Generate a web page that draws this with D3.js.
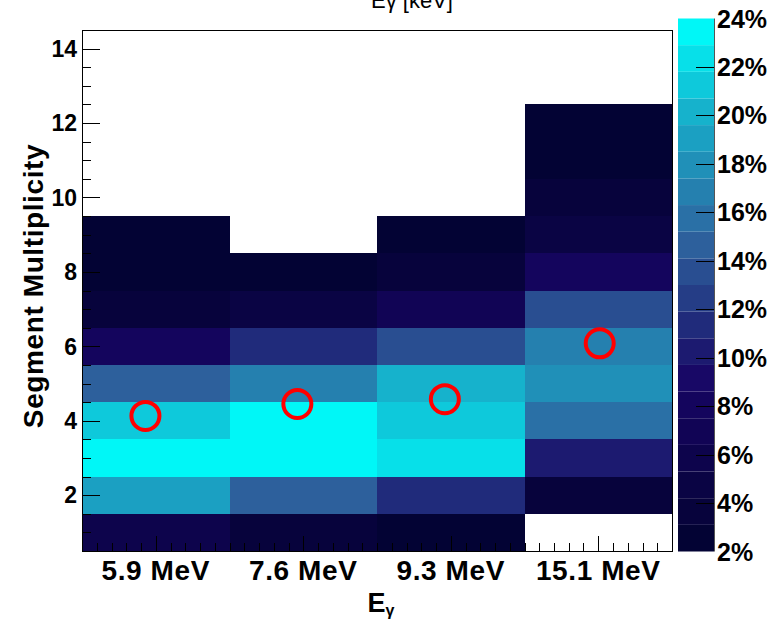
<!DOCTYPE html>
<html>
<head>
<meta charset="utf-8">
<script src="https://cdn.jsdelivr.net/npm/d3@7"></script>
<style>
  body { margin: 0; background: #fff; }
  svg { display: block; }
  text { font-family: "Liberation Sans", Arial, Helvetica, sans-serif; fill: #000; }
</style>
</head>
<body>
<svg id="chart" width="771" height="622"></svg>
<script>
// Gamma-ray lines and the share (%) of events per segment multiplicity
const categories = ["5.9 MeV", "7.6 MeV", "9.3 MeV", "15.1 MeV"];
const firstMultiplicity = [1, 1, 1, 2];
const share59  = [5.5, 19.0, 23.2, 21.0, 14.6, 7.8, 3.5, 2.8, 2.5];
const share76  = [3.2, 14.8, 23.5, 23.6, 16.8, 11.2, 5.0, 2.5];
const share93  = [2.5, 10.9, 22.0, 20.8, 19.8, 13.2, 6.5, 3.3, 2.2];
const share151 = [4.0, 10.0, 16.0, 18.0, 17.0, 13.5, 8.0, 4.5, 3.2, 2.5, 2.2];
const shares = [share59, share76, share93, share151];

// Mean multiplicity markers (x in category-axis units, 0..4)
const meanX = [0.43, 1.46, 2.46, 3.51];
const meanMultiplicity = [4.13, 4.45, 4.58, 6.08];

const yTickValues = [2, 4, 6, 8, 10, 12, 14];
const zTickValues = [2, 4, 6, 8, 10, 12, 14, 16, 18, 20, 22, 24];
const zRange = [2, 24];
const nContours = 20;

// Layout
const frame = { left: 82, right: 672, top: 30, bottom: 551 };
const bar = { left: 678, right: 714, top: 18.5, bottom: 551.5 };

const svg = d3.select("#chart");

const x = d3.scaleLinear().domain([0, categories.length]).range([frame.left, frame.right]);
const y = d3.scaleLinear().domain([0.5, 14.5]).range([frame.bottom, frame.top]);
const z = d3.scaleLinear().domain(zRange).range([bar.bottom, bar.top]);

// Deep-sea style gradient palette
const palette = d3.scaleLinear()
  .domain([0.00, 0.34, 0.61, 0.84, 1.00])
  .range([
    d3.rgb(0.00 * 255, 0.01 * 255, 0.17 * 255),
    d3.rgb(0.09 * 255, 0.02 * 255, 0.39 * 255),
    d3.rgb(0.18 * 255, 0.39 * 255, 0.62 * 255),
    d3.rgb(0.09 * 255, 0.68 * 255, 0.79 * 255),
    d3.rgb(0.00 * 255, 0.97 * 255, 0.97 * 255)
  ])
  .interpolate(d3.interpolateRgb)
  .clamp(true);

const step = (zRange[1] - zRange[0]) / nContours;
function levelOf(v) {
  return Math.max(0, Math.min(nContours - 1, Math.floor((v - zRange[0]) / step)));
}
function levelColor(k) { return palette((k + 0.99) / nContours); }

// Cells
const cells = [];
shares.forEach((col, i) => {
  col.forEach((v, j) => cells.push({ i, m: firstMultiplicity[i] + j, v }));
});

svg.append("g")
  .selectAll("rect")
  .data(cells)
  .join("rect")
  .attr("x", d => x(d.i))
  .attr("width", d => x(d.i + 1) - x(d.i))
  .attr("y", d => y(d.m + 0.5))
  .attr("height", d => y(d.m - 0.5) - y(d.m + 0.5))
  .attr("fill", d => levelColor(levelOf(d.v)))
  .attr("shape-rendering", "crispEdges");

// Frame
svg.append("rect")
  .attr("x", frame.left + 0.5).attr("y", frame.top + 0.5)
  .attr("width", frame.right - frame.left).attr("height", frame.bottom - frame.top)
  .attr("fill", "none").attr("stroke", "#000").attr("stroke-width", 1);

// Y axis ticks (inside, pointing right)
const yTickG = svg.append("g").attr("stroke", "#000").attr("stroke-width", 1);
const yMinor = d3.range(1, 14.5, 0.5);
yTickG.selectAll("line")
  .data(yMinor)
  .join("line")
  .attr("x1", frame.left)
  .attr("x2", d => frame.left + (d % 2 === 0 ? 18 : 9))
  .attr("y1", d => Math.round(y(d)) + 0.5)
  .attr("y2", d => Math.round(y(d)) + 0.5);

svg.append("g")
  .selectAll("text")
  .data(yTickValues)
  .join("text")
  .attr("x", frame.left - 5)
  .attr("y", d => y(d))
  .attr("dy", "0.36em")
  .attr("text-anchor", "end")
  .attr("font-size", 23)
  .attr("font-weight", "bold")
  .text(d => d);

// X axis ticks (inside, pointing up)
const xTickG = svg.append("g").attr("stroke", "#000").attr("stroke-width", 1);
const xMinor = d3.range(1, categories.length * 10);
xTickG.selectAll("line")
  .data(xMinor)
  .join("line")
  .attr("x1", d => Math.round(x(d / 10)) + 0.5)
  .attr("x2", d => Math.round(x(d / 10)) + 0.5)
  .attr("y1", frame.bottom)
  .attr("y2", d => frame.bottom - (d % 10 === 5 ? 15 : 8));

svg.append("g")
  .selectAll("text")
  .data(categories)
  .join("text")
  .attr("x", (d, i) => x(i + 0.5))
  .attr("y", 580)
  .attr("text-anchor", "middle")
  .attr("font-size", 28)
  .attr("letter-spacing", 0.6)
  .attr("font-weight", "bold")
  .text(d => d);

// Mean multiplicity markers
svg.append("g")
  .selectAll("circle")
  .data(meanMultiplicity)
  .join("circle")
  .attr("cx", (d, i) => x(meanX[i]))
  .attr("cy", d => y(d))
  .attr("r", 14)
  .attr("fill", "none")
  .attr("stroke", "#ff0000")
  .attr("stroke-width", 4);

// Axis titles
const xTitle = svg.append("text")
  .attr("x", 381).attr("y", 612)
  .attr("text-anchor", "middle")
  .attr("font-size", 27).attr("font-weight", "bold");
xTitle.append("tspan").text("E");
xTitle.append("tspan").attr("font-size", 16).attr("dy", 4).text("γ");

svg.append("text")
  .attr("transform", "translate(43,286) rotate(-90)")
  .attr("text-anchor", "middle")
  .attr("font-size", 28).attr("font-weight", "bold")
  .attr("letter-spacing", 0.6)
  .text("Segment Multiplicity");

// Title (sits at the very top edge)
const title = svg.append("text")
  .attr("x", 412).attr("y", 8)
  .attr("text-anchor", "middle")
  .attr("font-size", 22);
title.append("tspan").text("Eγ [keV]");

// Colour bar
const levels = d3.range(nContours);
svg.append("g")
  .selectAll("rect")
  .data(levels)
  .join("rect")
  .attr("x", bar.left)
  .attr("width", bar.right - bar.left)
  .attr("y", k => z(zRange[0] + step * (k + 1)))
  .attr("height", k => z(zRange[0] + step * k) - z(zRange[0] + step * (k + 1)))
  .attr("fill", k => levelColor(k));

svg.append("line")
  .attr("x1", bar.right + 0.5).attr("x2", bar.right + 0.5)
  .attr("y1", bar.top).attr("y2", bar.bottom)
  .attr("stroke", "#555").attr("stroke-width", 1);

svg.append("g").attr("stroke", "#000").attr("stroke-width", 1)
  .selectAll("line")
  .data(zTickValues.slice(1, -1))
  .join("line")
  .attr("x1", bar.right - 18).attr("x2", bar.right)
  .attr("y1", d => Math.round(z(d)) + 0.5)
  .attr("y2", d => Math.round(z(d)) + 0.5);

svg.append("g")
  .selectAll("text")
  .data(zTickValues)
  .join("text")
  .attr("x", bar.right + 3)
  .attr("y", d => z(d))
  .attr("dy", "0.36em")
  .attr("font-size", 25)
  .attr("font-weight", "bold")
  .text(d => d + "%");
</script>
</body>
</html>
